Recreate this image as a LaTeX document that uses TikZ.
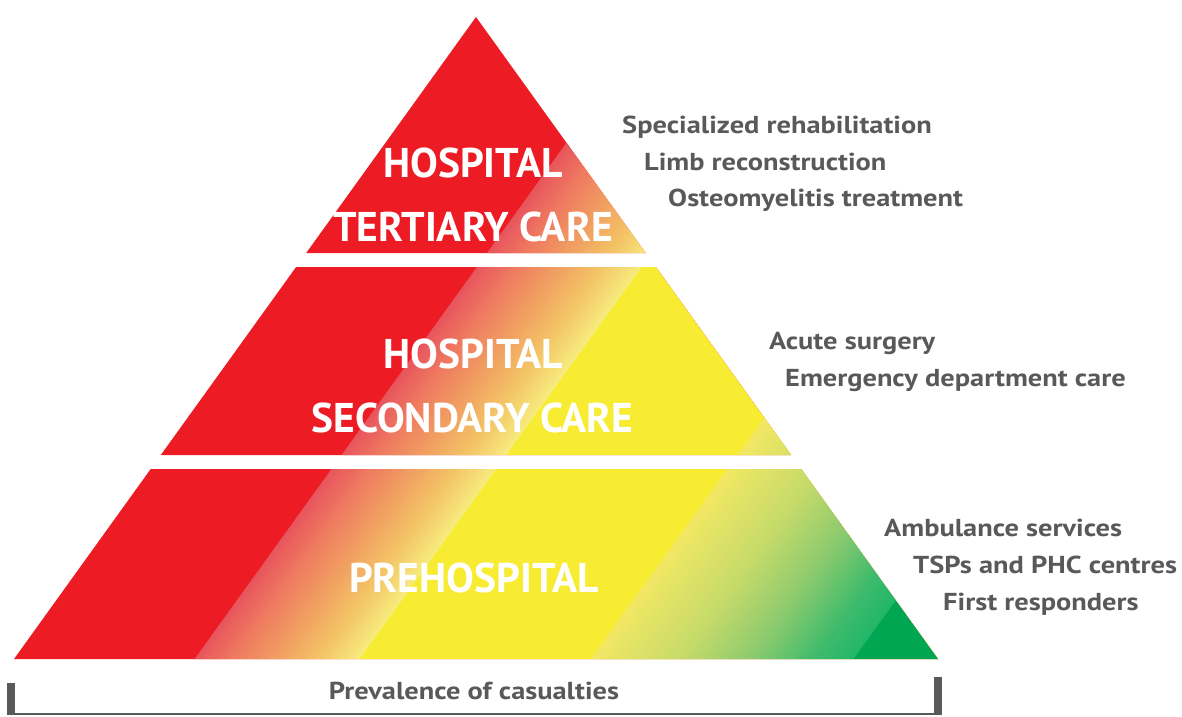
\documentclass[tikz,border=0pt]{standalone}
\usepackage{fontspec}
\setmainfont{PT Sans}
\newfontfamily\sidefont[FakeStretch=1.16]{PT Sans}
\definecolor{pred}{HTML}{ED1C24}
\definecolor{pyel}{HTML}{F7EC31}
\definecolor{pgrn}{HTML}{00A651}
\definecolor{tgray}{HTML}{58595B}
\definecolor{ga}{HTML}{E8545D}
\definecolor{gb}{HTML}{EF7C60}
\definecolor{gc}{HTML}{F1A061}
\definecolor{gd}{HTML}{F3C466}
\definecolor{ge}{HTML}{F7EC7E}
\definecolor{ha}{HTML}{F3E863}
\definecolor{hb}{HTML}{C5DA6A}
\definecolor{hc}{HTML}{8FCB6E}
\definecolor{hd}{HTML}{3EBB6C}
\definecolor{he}{HTML}{22B66A}
% slanted band between u-values #1 and #2
\newcommand\slantband[3]{%
  \fill[#3] ({#1+182.2},0) -- ({#2+182.2},0) -- ({#2-333.4},716) -- ({#1-333.4},716) -- cycle;}
% gradient segment: u from #1 to #2, colour #3 to #4, #5 strips
\newcommand\gradseg[5]{%
  \foreach \i in {1,...,#5}{%
    \pgfmathsetmacro\ua{#1+(#2-#1)*(\i-1)/#5}%
    \pgfmathsetmacro\ub{#1+(#2-#1)*\i/#5+0.8}%
    \pgfmathsetmacro\pp{100-100*(\i-0.5)/#5}%
    \slantband{\ua}{\ub}{#3!\pp!#4}%
  }}
\tikzset{
  tierlabel/.style={inner sep=0pt, anchor=base, text=white, font=\bfseries\fontsize{41.5}{41.5}\selectfont},
  sidelabel/.style={inner sep=0pt, anchor=base west, text=tgray, font=\sidefont\bfseries\fontsize{24.5}{24.5}\selectfont},
}
\begin{document}
\begin{tikzpicture}[x=1pt,y=-1pt]
\useasboundingbox (0,0) rectangle (1182,716);
\begin{scope}
\clip (476,17) -- (306.2,253) -- (645.8,253) -- cycle
      (296.1,267) -- (160.8,455) -- (791.2,455) -- (655.9,267) -- cycle
      (150.7,469) -- (14,659) -- (938,659) -- (801.3,469) -- cycle;
\fill[pred] (0,0) rectangle (1182,716);
\gradseg{487}{528}{ga}{gb}{14}
\gradseg{528}{570}{gb}{gc}{14}
\gradseg{570}{611}{gc}{gd}{14}
\gradseg{611}{652}{gd}{ge}{14}
\slantband{652}{1800}{pyel}
\gradseg{883}{975}{ha}{hb}{30}
\gradseg{975}{1041}{hb}{hc}{22}
\gradseg{1041}{1107}{hc}{hd}{22}
\gradseg{1107}{1146}{hd}{he}{13}
\slantband{1146}{1800}{pgrn}
\end{scope}

\node[tierlabel] (t1) at (473,177) {HOSPITAL};
\node[tierlabel] (t2) at (473,241) {TERTIARY CARE};
\node[tierlabel] (m1) at (473.5,368) {HOSPITAL};
\node[tierlabel] (m2) at (472.5,432) {SECONDARY CARE};
\node[tierlabel] (b1) at (474,592) {PREHOSPITAL};

\node[sidelabel] (s1) at (622,133) {Specialized rehabilitation};
\node[sidelabel] (s2) at (644,170) {Limb reconstruction};
\node[sidelabel] (s3) at (668,206) {Osteomyelitis treatment};
\node[sidelabel] (s4) at (769,349) {Acute surgery};
\node[sidelabel] (s5) at (785,386) {Emergency department care};
\node[sidelabel] (s6) at (884,536) {Ambulance services};
\node[sidelabel] (s7) at (913,573) {TSPs and PHC centres};
\node[sidelabel] (s8) at (943,610) {First responders};

\fill[tgray] (7,683) rectangle (15,715);
\fill[tgray] (934,677) rectangle (942,715);
\draw[tgray, line width=1.6pt] (15,714) -- (934,714);
\node[sidelabel, anchor=base] (prev) at (474,699) {Prevalence of casualties};
\end{tikzpicture}
\end{document}
